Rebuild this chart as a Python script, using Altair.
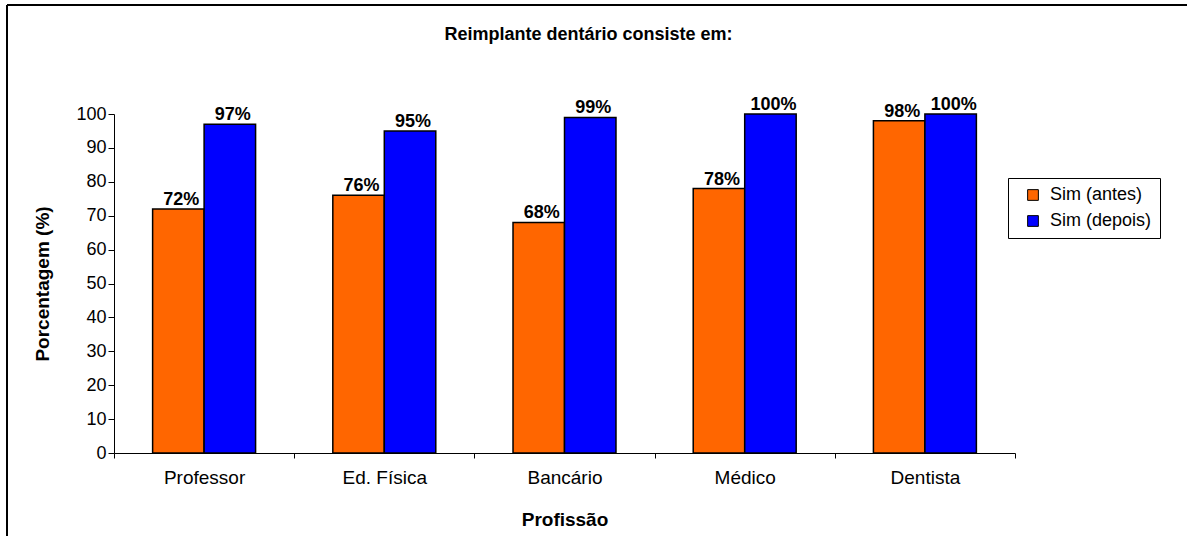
import altair as alt
import pandas as pd

# Survey answers by profession, before and after the explanation
profissoes = ["Professor", "Ed. Física", "Bancário", "Médico", "Dentista"]
sim_antes = [72, 76, 68, 78, 98]
sim_depois = [97, 95, 99, 100, 100]
series = ["Sim (antes)", "Sim (depois)"]
cores = ["#FF6600", "#0000FF"]
ticks_y = [0, 10, 20, 30, 40, 50, 60, 70, 80, 90, 100]

rows = []
for p, a, d in zip(profissoes, sim_antes, sim_depois):
    rows.append({"Profissão": p, "Série": series[0], "valor": a})
    rows.append({"Profissão": p, "Série": series[1], "valor": d})
df = pd.DataFrame(rows)

FONT = "Liberation Sans"
W, H = 901, 339

x_enc = alt.X(
    "Profissão:N",
    sort=profissoes,
    scale=alt.Scale(paddingInner=0, paddingOuter=0),
    axis=alt.Axis(
        title="Profissão",
        titleFont=FONT, titleFontSize=19, titleFontWeight="bold", titleColor="black",
        titleX=W / 2, titleY=66, titleBaseline="middle",
        labelFont=FONT, labelFontSize=19, labelColor="black", labelAngle=0,
        labelPadding=10, labelOverlap=False,
        tickBand="extent", tickSize=5, tickColor="black",
        domainColor="black", grid=False,
    ),
)
xoff = alt.XOffset(
    "Série:N", sort=series,
    scale=alt.Scale(paddingInner=0, paddingOuter=0.75),
)
y_enc = alt.Y(
    "valor:Q",
    scale=alt.Scale(domain=[0, 100], nice=False, zero=True),
    axis=alt.Axis(
        title="Porcentagem (%)",
        titleFont=FONT, titleFontSize=19, titleFontWeight="bold", titleColor="black",
        titleAngle=270, titleX=-72, titleY=H / 2, titleAlign="center", titleBaseline="middle",
        values=ticks_y, tickCount=11, labelOverlap=False, labelFlush=False,
        labelFont=FONT, labelFontSize=18, labelColor="black", labelPadding=2,
        tickSize=6, tickColor="black", domainColor="black", grid=False,
    ),
)

base = alt.Chart(df).encode(x=x_enc, xOffset=xoff, y=y_enc)

bars = base.mark_bar(stroke="black", strokeWidth=1.5).encode(
    color=alt.Color(
        "Série:N",
        sort=series,
        scale=alt.Scale(domain=series, range=cores),
        legend=alt.Legend(
            title=None, orient="none", legendX=894, legendY=64,
            strokeColor="black", fillColor="white", padding=8,
            symbolType="square", symbolSize=115, symbolStrokeColor="black",
            symbolStrokeWidth=1, symbolOffset=8,
            labelFont=FONT, labelFontSize=18, labelColor="black",
            labelOffset=8, rowPadding=8,
        ),
    ),
)

labels = base.mark_text(
    font=FONT, fontSize=18, fontWeight="bold", color="black",
    baseline="alphabetic", dy=-4, dx=3,
).encode(
    text=alt.Text("rotulo:N"),
).transform_calculate(rotulo="datum.valor + '%'")

# outer frame: top and left edges of the chart area
frame_data = alt.Data(values=[{}])
frame_top = alt.Chart(frame_data).mark_rule(color="black", strokeWidth=2).encode(
    x=alt.value(-107), x2=alt.value(1080), y=alt.value(-109)
)
frame_left = alt.Chart(frame_data).mark_rule(color="black", strokeWidth=2).encode(
    x=alt.value(-107), y=alt.value(-109), y2=alt.value(430)
)

chart = (
    alt.layer(bars, labels, frame_top, frame_left)
    .properties(
        width=W,
        height=H,
        title=alt.Title(
            "Reimplante dentário consiste em:",
            font=FONT, fontSize=18, fontWeight="bold", color="black",
            anchor="middle", dx=24, offset=-58, baseline="bottom",
        ),
        view=alt.ViewBackground(strokeWidth=0, strokeOpacity=0),
        autosize=alt.AutoSizeParams(type="none"),
        padding={"left": 114, "top": 114, "right": 172, "bottom": 83},
    )
    .configure(
        background="white",
        style={"cell": {"stroke": "transparent", "strokeWidth": 0}},
    )
    .configure_view(stroke=None, strokeWidth=0)
    .configure_axis(grid=False)
)

chart.save("out.html", embed_options={"renderer": "svg", "actions": False})
